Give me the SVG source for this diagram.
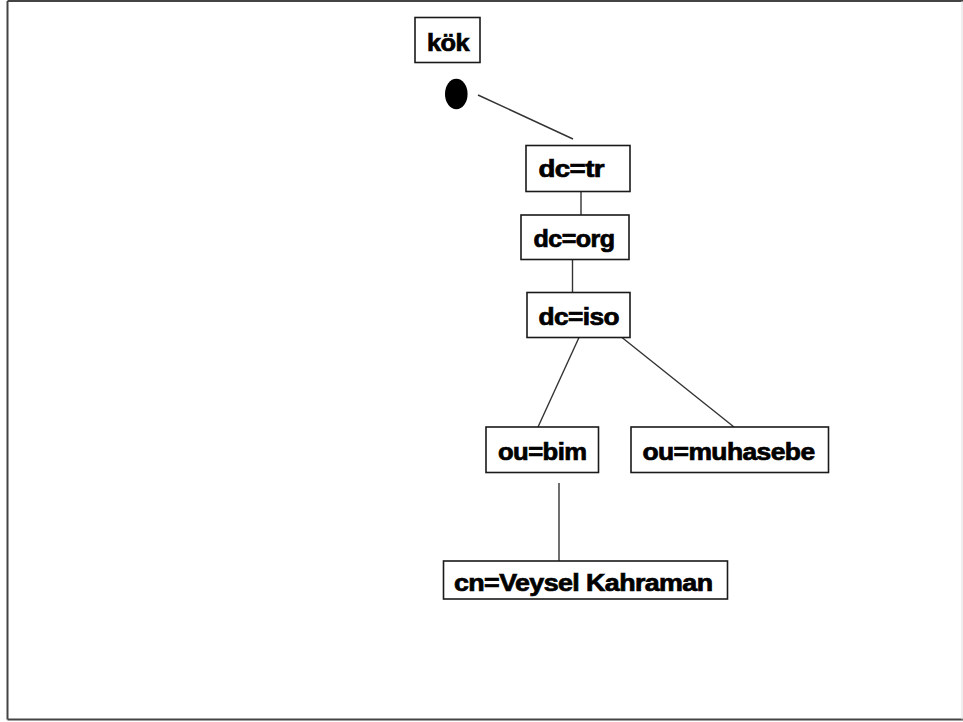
<svg xmlns="http://www.w3.org/2000/svg" width="963" height="722" viewBox="0 0 963 722">
  <style>
    .box { fill: #ffffff; stroke: #1a1a1a; stroke-width: 1.6; }
    .lbl { font-family: "Liberation Sans", Arial, sans-serif; font-weight: bold; font-size: 23px; fill: #000000; stroke: #000000; stroke-width: 0.7; letter-spacing: -0.5px; }
    .edge { stroke: #333333; stroke-width: 1.4; fill: none; }
    .frame { stroke: #444444; stroke-width: 2; fill: none; }
  </style>
  <rect width="963" height="722" fill="#ffffff"/>

  <!-- page frame -->
  <g id="frame">
    <line class="frame" x1="7.5" y1="1" x2="963" y2="1"/>
    <line class="frame" x1="7.5" y1="1" x2="7.5" y2="719.5"/>
    <line class="frame" x1="7.5" y1="719.5" x2="963" y2="719.5"/>
    <line x1="962" y1="1" x2="962" y2="719.5" stroke="#dddddd" stroke-width="1"/>
  </g>

  <!-- tree edges -->
  <g id="connectors">
    <line class="edge" x1="478" y1="95" x2="573" y2="139"/>
    <line class="edge" x1="581" y1="192" x2="581" y2="215"/>
    <line class="edge" x1="572.5" y1="259" x2="572.5" y2="292.5"/>
    <line class="edge" x1="579" y1="337.5" x2="538" y2="427"/>
    <line class="edge" x1="622" y1="337.5" x2="734" y2="427"/>
    <line class="edge" x1="559" y1="483" x2="559" y2="561"/>
  </g>

  <g id="kok">
    <rect class="box" x="415" y="17.5" width="65" height="45"/>
    <text class="lbl" x="427" y="50.5" textLength="42" lengthAdjust="spacingAndGlyphs">kök</text>
  </g>

  <g id="root-point">
    <ellipse cx="456.3" cy="94" rx="11.3" ry="15.3" fill="#000000"/>
  </g>

  <g id="dc-tr">
    <rect class="box" x="526" y="145.5" width="104" height="46"/>
    <text class="lbl" x="538.5" y="176.5" textLength="65.5" lengthAdjust="spacingAndGlyphs">dc=tr</text>
  </g>

  <g id="dc-org">
    <rect class="box" x="521" y="215" width="108" height="44.5"/>
    <text class="lbl" x="533.5" y="246.5" textLength="81" lengthAdjust="spacingAndGlyphs">dc=org</text>
  </g>

  <g id="dc-iso">
    <rect class="box" x="527" y="292.5" width="103" height="45"/>
    <text class="lbl" x="538.5" y="325" textLength="80.5" lengthAdjust="spacingAndGlyphs">dc=iso</text>
  </g>

  <g id="ou-bim">
    <rect class="box" x="486" y="427" width="112.5" height="45.5"/>
    <text class="lbl" x="498" y="459.5" textLength="88.5" lengthAdjust="spacingAndGlyphs">ou=bim</text>
  </g>

  <g id="ou-muhasebe">
    <rect class="box" x="631" y="427" width="197.5" height="45.5"/>
    <text class="lbl" x="642.5" y="459.5" textLength="172" lengthAdjust="spacingAndGlyphs">ou=muhasebe</text>
  </g>

  <g id="cn-veysel">
    <rect class="box" x="443.5" y="561" width="284" height="38"/>
    <text class="lbl" x="454" y="591" textLength="258.5" lengthAdjust="spacingAndGlyphs">cn=Veysel Kahraman</text>
  </g>
</svg>
